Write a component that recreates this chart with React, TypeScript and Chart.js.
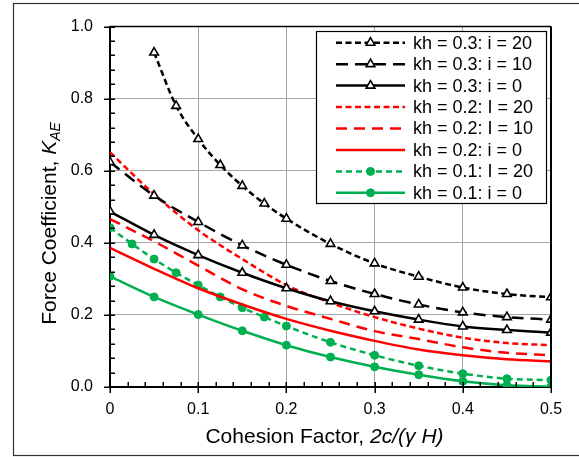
import React, { useEffect, useRef } from 'react';
import { Chart, registerables } from 'chart.js';

Chart.register(...registerables);

const FONT = '"Liberation Sans", Arial, Helvetica, sans-serif';

// ---- data ----
const seriesLabels = [
  'kh = 0.3: i = 20',
  'kh = 0.3: i = 10',
  'kh = 0.3: i = 0',
  'kh = 0.2: I = 20',
  'kh = 0.2: I = 10',
  'kh = 0.2: i = 0',
  'kh = 0.1: I = 20',
  'kh = 0.1: i = 0',
];

const xStd = [0, 0.05, 0.1, 0.15, 0.2, 0.25, 0.3, 0.35, 0.4, 0.45, 0.5];
const xKh03i20 = [0.05, 0.075, 0.1, 0.125, 0.15, 0.175, 0.2, 0.25, 0.3, 0.35, 0.4, 0.45, 0.5];
const yKh03i20 = [0.928, 0.78, 0.688, 0.616, 0.558, 0.509, 0.467, 0.397, 0.343, 0.306, 0.276, 0.258, 0.249];
const yKh03i10 = [0.624, 0.531, 0.458, 0.393, 0.339, 0.294, 0.258, 0.229, 0.207, 0.194, 0.187];
const yKh03i0 = [0.487, 0.422, 0.366, 0.317, 0.274, 0.238, 0.21, 0.187, 0.168, 0.158, 0.151];
const yKh02i20 = [0.651, 0.535, 0.435, 0.355, 0.283, 0.234, 0.194, 0.162, 0.137, 0.122, 0.116];
const yKh02i10 = [0.466, 0.404, 0.337, 0.271, 0.225, 0.189, 0.155, 0.133, 0.11, 0.095, 0.088];
const yKh02i0 = [0.386, 0.328, 0.274, 0.229, 0.189, 0.156, 0.128, 0.104, 0.088, 0.077, 0.071];
const xKh01i20 = [0, 0.025, 0.05, 0.075, 0.1, 0.125, 0.15, 0.175, 0.2, 0.25, 0.3, 0.35, 0.4, 0.45, 0.5];
const yKh01i20 = [0.442, 0.397, 0.355, 0.317, 0.283, 0.25, 0.22, 0.194, 0.169, 0.124, 0.088, 0.059, 0.037, 0.023, 0.019];
const yKh01i0 = [0.307, 0.25, 0.201, 0.156, 0.116, 0.083, 0.056, 0.034, 0.016, 0.005, 0.001];

const xTicks = [0, 0.1, 0.2, 0.3, 0.4, 0.5];
const yTicks = [0, 0.2, 0.4, 0.6, 0.8, 1.0];
const xMinorStep = 0.02;
const yMinorStep = 0.04;

const xTitleNormal = 'Cohesion Factor, ';
const xTitleItalic = '2c/(\u03b3 H)';
const yTitleNormal = 'Force Coefficient, ';
const yTitleK = 'K';
const yTitleSub = 'AE';

const BLACK = '#000000';
const RED = '#ff0000';
const GREEN = '#00b050';

const pts = (xs: number[], ys: number[]) => xs.map((x, i) => ({ x, y: ys[i] }));

function makeDataset(label: string, xs: number[], ys: number[], color: string, dash: number[], marker: string | null) {
  const tri = marker === 'triangle';
  const circ = marker === 'circle';
  return {
    label,
    data: pts(xs, ys),
    borderColor: color,
    borderWidth: 2.5,
    borderDash: dash,
    cubicInterpolationMode: 'monotone' as const,
    pointStyle: tri ? 'triangle' : 'circle',
    pointRadius: tri ? 5 : circ ? 4 : 0,
    pointBackgroundColor: tri ? '#ffffff' : color,
    pointBorderColor: color,
    pointBorderWidth: tri ? 1.6 : 1,
    fill: false,
  };
}

const legendPlugin = {
  id: 'customLegend',
  afterDraw(chart: any) {
    const ctx = chart.ctx;
    ctx.save();
    const bx = 316.5, by = 31.5, bw = 230, bh = 172;
    ctx.fillStyle = '#ffffff';
    ctx.fillRect(bx, by, bw, bh);
    ctx.strokeStyle = '#000';
    ctx.lineWidth = 1.2;
    ctx.strokeRect(bx, by, bw, bh);
    chart.data.datasets.forEach((ds: any, i: number) => {
      const yy = 42.7 + i * 21.45;
      ctx.save();
      ctx.strokeStyle = ds.borderColor;
      ctx.lineWidth = ds.borderWidth;
      ctx.setLineDash(ds.borderDash || []);
      ctx.beginPath();
      ctx.moveTo(336, yy);
      ctx.lineTo(405, yy);
      ctx.stroke();
      ctx.restore();
      if (ds.pointRadius > 0) {
        ctx.save();
        ctx.fillStyle = ds.pointBackgroundColor;
        ctx.strokeStyle = ds.pointBorderColor;
        ctx.lineWidth = ds.pointBorderWidth;
        ctx.setLineDash([]);
        const cx = 370.5;
        const r = ds.pointRadius;
        ctx.beginPath();
        if (ds.pointStyle === 'triangle') {
          const h = r * 1.5;
          ctx.moveTo(cx, yy - r);
          ctx.lineTo(cx + r * Math.sin(Math.PI / 3) * 1.0, yy + r / 2);
          ctx.lineTo(cx - r * Math.sin(Math.PI / 3) * 1.0, yy + r / 2);
          ctx.closePath();
          void h;
        } else {
          ctx.arc(cx, yy, r, 0, Math.PI * 2);
        }
        ctx.fill();
        ctx.stroke();
        ctx.restore();
      }
      ctx.fillStyle = '#000';
      ctx.font = `18px ${FONT}`;
      ctx.textBaseline = 'middle';
      ctx.textAlign = 'left';
      ctx.fillText(ds.label, 413, yy + 1);
    });
    ctx.restore();
  },
};

const framePlugin = {
  id: 'frameTicksTitles',
  afterDatasetsDraw(chart: any) {
    const ctx = chart.ctx;
    const { left, right, top, bottom } = chart.chartArea;
    const xs = chart.scales.x;
    const ys = chart.scales.y;
    ctx.save();
    // plot frame top & right
    ctx.strokeStyle = '#000';
    ctx.lineWidth = 1.5;
    ctx.beginPath();
    ctx.moveTo(left, top);
    ctx.lineTo(right, top);
    ctx.stroke();
    ctx.lineWidth = 2;
    ctx.beginPath();
    ctx.moveTo(right, top);
    ctx.lineTo(right, bottom);
    ctx.stroke();
    // ticks
    ctx.lineWidth = 1.5;
    const nY = Math.round((ys.max - ys.min) / yMinorStep);
    for (let i = 0; i <= nY; i++) {
      const v = ys.min + i * yMinorStep;
      const py = Math.round(ys.getPixelForValue(v)) + 0.25;
      const major = yTicks.some((t) => Math.abs(t - v) < 1e-6);
      ctx.beginPath();
      ctx.moveTo(major ? left - 6 : left, py);
      ctx.lineTo(left + 5, py);
      ctx.stroke();
    }
    const nX = Math.round((xs.max - xs.min) / xMinorStep);
    for (let i = 0; i <= nX; i++) {
      const v = xs.min + i * xMinorStep;
      const px = Math.round(xs.getPixelForValue(v)) + 0.25;
      const major = xTicks.some((t) => Math.abs(t - v) < 1e-6);
      ctx.beginPath();
      ctx.moveTo(px, major ? bottom + 6 : bottom);
      ctx.lineTo(px, bottom - 5);
      ctx.stroke();
    }
    ctx.restore();
  },
  afterDraw(chart: any) {
    const ctx = chart.ctx;
    ctx.save();
    // outer border
    ctx.strokeStyle = '#333';
    ctx.lineWidth = 1.2;
    ctx.strokeRect(13.5, 3.5, 640, 452);
    ctx.fillStyle = '#000';
    // x title
    const nf = `21px ${FONT}`;
    const itf = `italic 21px ${FONT}`;
    ctx.font = nf;
    const w1 = ctx.measureText(xTitleNormal).width;
    ctx.font = itf;
    const w2 = ctx.measureText(xTitleItalic).width;
    const sx = 324.5 - (w1 + w2) / 2;
    ctx.textBaseline = 'alphabetic';
    ctx.textAlign = 'left';
    ctx.font = nf;
    ctx.fillText(xTitleNormal, sx, 443);
    ctx.font = itf;
    ctx.fillText(xTitleItalic, sx + w1, 443);
    // y title
    ctx.translate(56, 223.5);
    ctx.rotate(-Math.PI / 2);
    ctx.font = nf;
    const a = ctx.measureText(yTitleNormal).width;
    ctx.font = itf;
    const b = ctx.measureText(yTitleK).width;
    const subf = `italic 14px ${FONT}`;
    ctx.font = subf;
    const c = ctx.measureText(yTitleSub).width;
    const st = -(a + b + c) / 2;
    ctx.font = nf;
    ctx.fillText(yTitleNormal, st, 0);
    ctx.font = itf;
    ctx.fillText(yTitleK, st + a, 0);
    ctx.font = subf;
    ctx.fillText(yTitleSub, st + a + b, 4);
    ctx.restore();
  },
};

export default function App() {
  const ref = useRef<HTMLCanvasElement | null>(null);
  useEffect(() => {
    if (!ref.current) return;
    const datasets = [
      makeDataset(seriesLabels[0], xKh03i20, yKh03i20, BLACK, [6, 3.5], 'triangle'),
      makeDataset(seriesLabels[1], xStd, yKh03i10, BLACK, [12, 7], 'triangle'),
      makeDataset(seriesLabels[2], xStd, yKh03i0, BLACK, [], 'triangle'),
      makeDataset(seriesLabels[3], xStd, yKh02i20, RED, [6, 3.5], null),
      makeDataset(seriesLabels[4], xStd, yKh02i10, RED, [11, 7], null),
      makeDataset(seriesLabels[5], xStd, yKh02i0, RED, [], null),
      makeDataset(seriesLabels[6], xKh01i20, yKh01i20, GREEN, [6, 4], 'circle'),
      makeDataset(seriesLabels[7], xStd, yKh01i0, GREEN, [], 'circle'),
    ];
    const chart = new Chart(ref.current, {
      type: 'line',
      data: { datasets } as any,
      options: {
        responsive: false,
        animation: false,
        devicePixelRatio: 1,
        layout: { padding: { left: 0, top: 15, right: 28, bottom: 0 } },
        plugins: { legend: { display: false }, tooltip: { enabled: false } },
        scales: {
          x: {
            type: 'linear',
            min: 0,
            max: 0.5,
            afterFit: (s: any) => { s.height = 70; },
            afterBuildTicks: (s: any) => { s.ticks = xTicks.map((v) => ({ value: v })); },
            ticks: {
              padding: 13,
              color: '#000',
              font: { family: FONT, size: 16 },
              maxRotation: 0,
              autoSkip: false,
              callback: (v: any) => (Number(v) === 0 ? '0' : Number(v).toFixed(1)),
            },
            grid: { color: '#a6a6a6', lineWidth: 1, drawTicks: false },
            border: { display: true, color: '#000', width: 2 },
          },
          y: {
            type: 'linear',
            min: 0,
            max: 1,
            afterFit: (s: any) => { s.width = 110; },
            afterBuildTicks: (s: any) => { s.ticks = yTicks.map((v) => ({ value: v })); },
            ticks: {
              padding: 17,
              color: '#000',
              font: { family: FONT, size: 16 },
              autoSkip: false,
              callback: (v: any) => Number(v).toFixed(1),
            },
            grid: { color: '#a6a6a6', lineWidth: 1, drawTicks: false },
            border: { display: true, color: '#000', width: 2 },
          },
        },
      } as any,
      plugins: [framePlugin, legendPlugin],
    });
    return () => chart.destroy();
  }, []);
  return (
    <div style={{ position: 'fixed', left: 0, top: 0, width: 579, height: 457, background: '#fff' }}>
      <canvas ref={ref} width={579} height={457} style={{ display: 'block', width: 579, height: 457 }} />
    </div>
  );
}
